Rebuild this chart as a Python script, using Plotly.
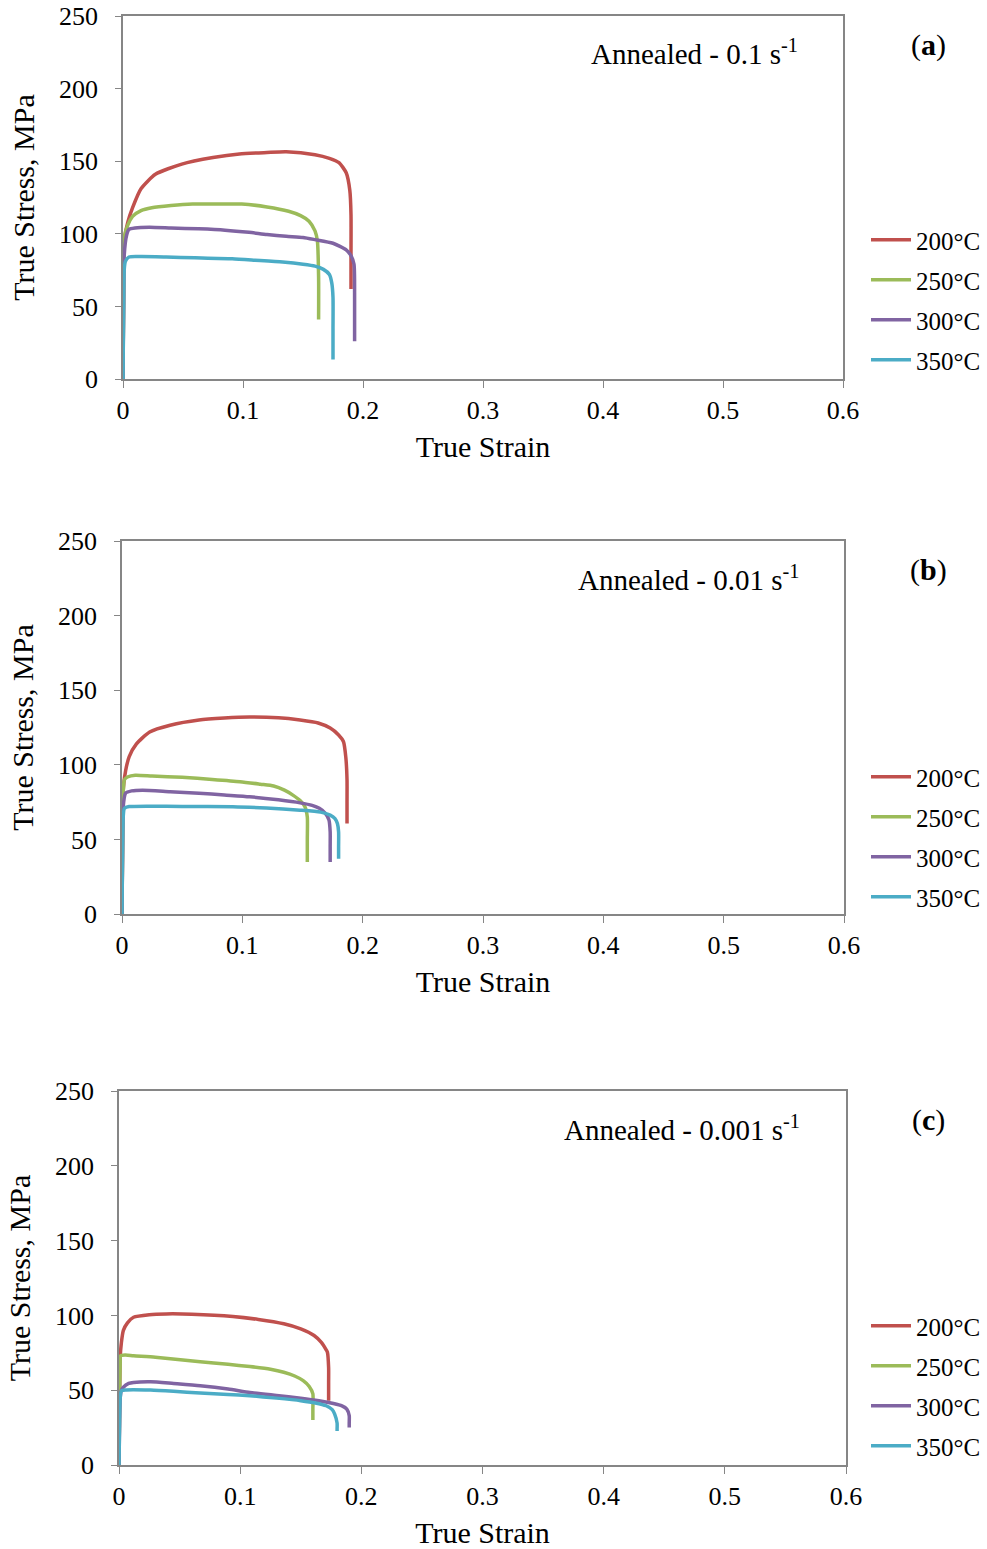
import plotly.graph_objects as go

temps = ["200°C", "250°C", "300°C", "350°C"]
colors = ["#C0504D", "#9BBB59", "#8064A2", "#4BACC6"]
panel_titles = ["Annealed - 0.1 s<sup>-1</sup>", "Annealed - 0.01 s<sup>-1</sup>", "Annealed - 0.001 s<sup>-1</sup>"]
panel_labels = ["(<b>a</b>)", "(<b>b</b>)", "(<b>c</b>)"]
x_ticks = [0, 0.1, 0.2, 0.3, 0.4, 0.5, 0.6]
x_ticklabels = ["0", "0.1", "0.2", "0.3", "0.4", "0.5", "0.6"]
y_ticks = [0, 50, 100, 150, 200, 250]

# Panel (a): 0.1 s^-1
a200_strain = [0, 0.0005, 0.001, 0.004, 0.008, 0.015, 0.027, 0.049, 0.075, 0.097, 0.12, 0.136, 0.16, 0.172, 0.18, 0.186, 0.189, 0.19, 0.19, 0.19]
a200_stress = [0, 60, 95, 108, 118, 131, 141, 148, 152.5, 155, 156, 156.5, 154.5, 152, 149, 142, 130, 113, 85, 62]
a250_strain = [0, 0.0005, 0.001, 0.004, 0.008, 0.015, 0.024, 0.04, 0.058, 0.08, 0.099, 0.12, 0.138, 0.148, 0.155, 0.16, 0.162, 0.163, 0.163]
a250_stress = [0, 60, 97, 106, 112, 116, 118, 119.5, 120.5, 120.5, 120.5, 118.5, 115.5, 112.5, 108.7, 102, 95, 70, 41]
a300_strain = [0, 0.0005, 0.001, 0.003, 0.005, 0.01, 0.022, 0.04, 0.063, 0.085, 0.105, 0.12, 0.136, 0.15, 0.16, 0.175, 0.186, 0.19, 0.1925, 0.193, 0.193]
a300_stress = [0, 50, 85, 99, 103, 104, 104.5, 104, 103.4, 102.5, 101, 99.5, 98.3, 97.5, 96, 93.5, 89, 85, 79, 55, 26]
a350_strain = [0, 0.0005, 0.001, 0.002, 0.005, 0.015, 0.036, 0.06, 0.091, 0.11, 0.133, 0.15, 0.16, 0.167, 0.172, 0.174, 0.175, 0.175, 0.175]
a350_stress = [0, 45, 75, 81, 84, 84.3, 84, 83.5, 82.8, 81.8, 80.5, 79, 77.7, 75.5, 72, 66, 56, 35, 13.5]

# Panel (b): 0.01 s^-1
b200_strain = [0, 0.0005, 0.001, 0.003, 0.006, 0.012, 0.023, 0.04, 0.064, 0.085, 0.106, 0.13, 0.148, 0.163, 0.173, 0.18, 0.184, 0.186, 0.187, 0.187, 0.187]
b200_stress = [0, 50, 83, 96, 105.5, 114, 122, 126.5, 130, 131.3, 132, 131.5, 130, 128, 124.6, 120, 115.6, 105, 90, 75, 60.6]
b250_strain = [0, 0.0005, 0.001, 0.002, 0.005, 0.011, 0.025, 0.05, 0.075, 0.098, 0.115, 0.126, 0.135, 0.142, 0.148, 0.152, 0.154, 0.154, 0.154]
b250_stress = [0, 50, 80, 90, 92, 93, 92.5, 91.6, 90.2, 88.7, 87, 85.8, 83, 79.7, 76, 71.9, 65, 50, 34.8]
b300_strain = [0, 0.0005, 0.001, 0.003, 0.008, 0.017, 0.04, 0.064, 0.085, 0.106, 0.13, 0.148, 0.158, 0.164, 0.169, 0.172, 0.173, 0.173, 0.173]
b300_stress = [0, 45, 72, 81, 82.5, 83, 82, 81, 79.8, 78.6, 76.5, 74.5, 72.8, 70.8, 67.5, 63, 55, 45, 34.8]
b350_strain = [0, 0.0005, 0.001, 0.002, 0.006, 0.023, 0.05, 0.092, 0.12, 0.148, 0.165, 0.173, 0.177, 0.179, 0.18, 0.18, 0.18]
b350_stress = [0, 45, 65, 70.8, 72, 72.3, 72.1, 71.9, 71, 69.6, 68.3, 66.3, 64, 60.6, 55, 45, 37]

# Panel (c): 0.001 s^-1
c200_strain = [0, 0.0005, 0.001, 0.002, 0.0036, 0.007, 0.012, 0.025, 0.039, 0.06, 0.094, 0.115, 0.136, 0.15, 0.161, 0.167, 0.171, 0.172, 0.173, 0.173, 0.173]
c200_stress = [0, 45, 72, 82, 90, 95, 98.8, 100.5, 101, 100.8, 99.3, 97.3, 94.4, 91, 86.6, 82, 77, 75.4, 65, 55, 43]
c250_strain = [0, 0.0005, 0.001, 0.0014, 0.005, 0.012, 0.03, 0.067, 0.09, 0.108, 0.125, 0.136, 0.145, 0.152, 0.157, 0.16, 0.16, 0.16]
c250_stress = [0, 45, 68, 73, 73.5, 73, 72, 69, 67.3, 65.8, 64, 62, 59.5, 56.4, 52.5, 47.5, 38, 30]
c300_strain = [0, 0.0005, 0.001, 0.002, 0.0036, 0.008, 0.012, 0.026, 0.045, 0.067, 0.09, 0.108, 0.13, 0.15, 0.165, 0.177, 0.184, 0.188, 0.19, 0.19, 0.19]
c300_stress = [0, 30, 45, 50, 52, 54.5, 55.2, 55.7, 54.5, 53, 50.8, 48.5, 46.5, 44.7, 43, 41.1, 39.5, 37.4, 33, 28, 25]
c350_strain = [0, 0.0005, 0.001, 0.002, 0.006, 0.026, 0.045, 0.067, 0.09, 0.108, 0.13, 0.15, 0.162, 0.171, 0.176, 0.178, 0.18, 0.18, 0.18]
c350_stress = [0, 30, 45, 49.7, 50.2, 50.1, 49.3, 48.1, 47.2, 46.3, 44.7, 43, 41.5, 39.6, 37, 34, 28, 24, 22.8]

panels = [
    [(a200_strain, a200_stress), (a250_strain, a250_stress), (a300_strain, a300_stress), (a350_strain, a350_stress)],
    [(b200_strain, b200_stress), (b250_strain, b250_stress), (b300_strain, b300_stress), (b350_strain, b350_stress)],
    [(c200_strain, c200_stress), (c250_strain, c250_stress), (c300_strain, c300_stress), (c350_strain, c350_stress)],
]

W, H = 987, 1549
# plot boxes in pixels: (left, right, top, bottom)
boxes = [(123, 843, 16, 379), (122, 844, 541, 914), (119, 846, 1091, 1465)]
legend_tops = [217, 754, 1303]

FONT = "Liberation Serif"
fig = go.Figure()
layout = dict(
    width=W, height=H, margin=dict(l=0, r=0, t=0, b=0, autoexpand=False),
    paper_bgcolor="white", plot_bgcolor="white",
    font=dict(family=FONT, size=26, color="black"),
    showlegend=True, annotations=[],
)

for p, (series, box) in enumerate(zip(panels, boxes)):
    l, r, t, b = box
    xa = "x" if p == 0 else f"x{p+1}"
    ya = "y" if p == 0 else f"y{p+1}"
    lg = "legend" if p == 0 else f"legend{p+1}"
    for i, (xs, ys) in enumerate(series):
        fig.add_trace(go.Scatter(
            x=xs, y=ys, mode="lines", name=temps[i],
            line=dict(color=colors[i], width=3.5, shape="spline", smoothing=0.6),
            xaxis=xa, yaxis=ya, legend=lg, legendgroup=f"{p}-{i}",
        ))
    axkey = "xaxis" if p == 0 else f"xaxis{p+1}"
    aykey = "yaxis" if p == 0 else f"yaxis{p+1}"
    layout[axkey] = dict(
        domain=[l / W, r / W], anchor=ya, range=[0, 0.6], automargin=False,
        tickvals=x_ticks, ticktext=x_ticklabels, ticklabeloverflow="allow",
        showgrid=False, zeroline=False, showline=True, mirror=True,
        linecolor="#868686", linewidth=1.5, ticks="outside", ticklen=7,
        tickcolor="#868686", tickfont=dict(size=26), ticklabelstandoff=0,
        title=dict(text="True Strain", font=dict(size=30), standoff=12),
    )
    layout[aykey] = dict(
        domain=[1 - b / H, 1 - t / H], anchor=xa, range=[0, 250], automargin=False,
        tickvals=y_ticks, ticklabeloverflow="allow",
        showgrid=False, zeroline=False, showline=True, mirror=True,
        linecolor="#868686", linewidth=1.5, ticks="outside", ticklen=6,
        tickcolor="#868686", tickfont=dict(size=26), ticklabelstandoff=12,
        title=dict(text="True Stress, MPa", font=dict(size=30), standoff=16),
    )
    layout[lg] = dict(
        x=866 / W, y=1 - legend_tops[p] / H, xanchor="left", yanchor="top",
        bgcolor="rgba(0,0,0,0)", font=dict(size=25), traceorder="grouped",
        tracegroupgap=4.5, itemwidth=40,
    )
    layout["annotations"].append(dict(
        text=panel_titles[p], xref=f"{xa} domain", yref=f"{ya} domain",
        x=0.94, y=0.90, xanchor="right", yanchor="middle", showarrow=False,
        font=dict(size=29),
    ))
    layout["annotations"].append(dict(
        text=panel_labels[p], xref="paper", yref="paper",
        x=928 / W, y=1 - (t + 29) / H, xanchor="center", yanchor="middle",
        showarrow=False, font=dict(size=30),
    ))

fig.update_layout(**layout)
fig.write_html(
    "out.html",
    config={"displayModeBar": False},
    post_script="document.body.style.margin='0';document.body.style.overflow='hidden';",
)
